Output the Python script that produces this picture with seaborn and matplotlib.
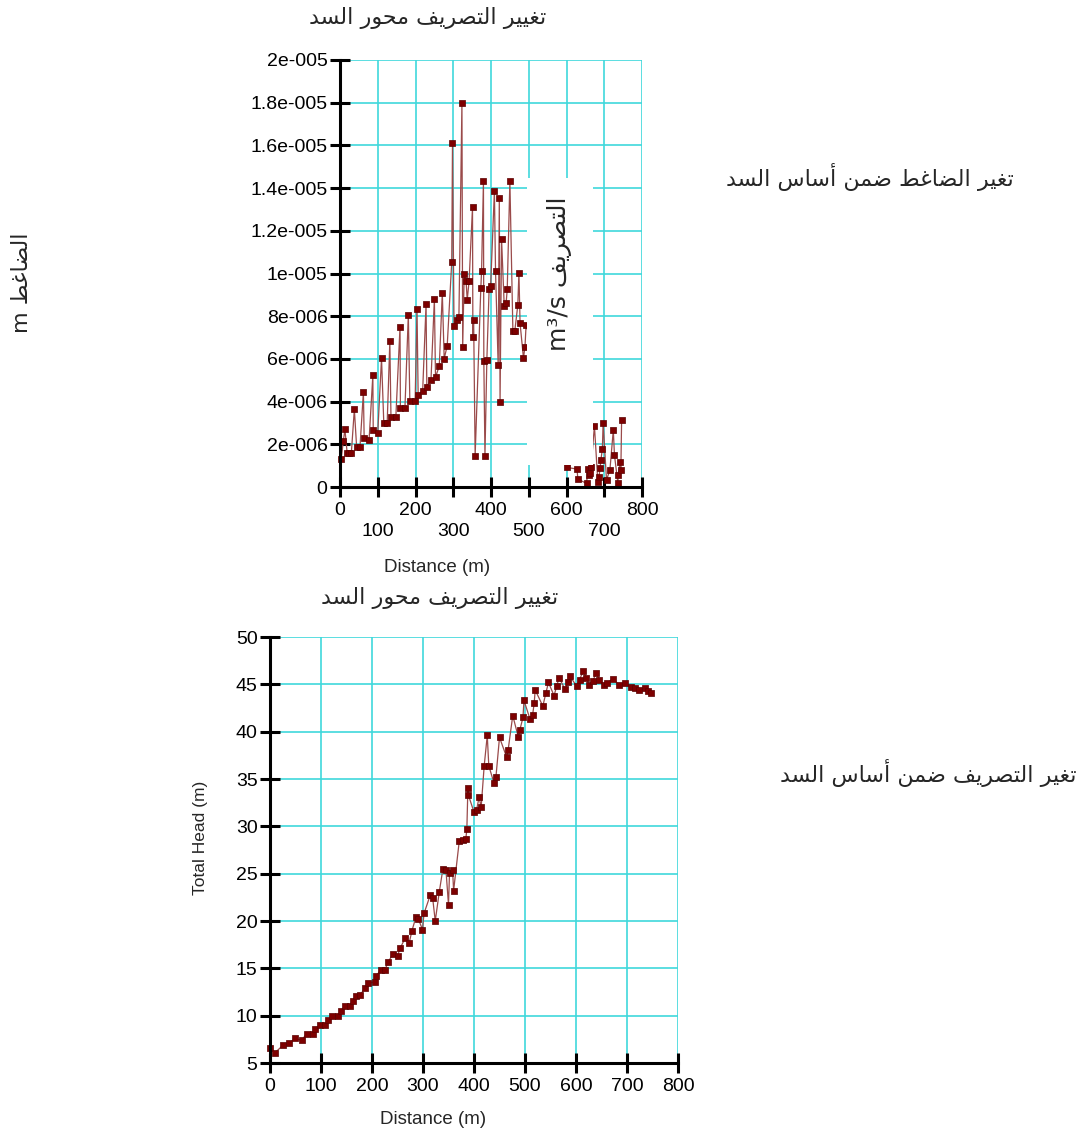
import matplotlib
matplotlib.use("Agg")
import matplotlib.pyplot as plt
from matplotlib.patches import Rectangle
import seaborn as sns
import pandas as pd

# ---------------- data ----------------
top_distance = [3, 9, 13, 19, 24, 30, 38, 44, 53, 62, 64, 77, 87, 88, 100, 110, 116, 125, 132, 135,
                148, 159, 160, 172, 181, 185, 199, 204, 207, 219, 228, 230, 241, 250, 253, 263, 271,
                276, 284, 296, 298, 302, 311, 315, 323, 325, 329, 334, 337, 342, 351, 352, 354, 358,
                373, 375, 380, 381, 384, 389, 395, 399, 409, 412, 419, 422, 424, 428, 435, 440, 443,
                450, 458, 463, 471, 474, 477, 486, 490, 493, 600, 628, 630, 653, 657, 660, 662, 665,
                674, 683, 686, 689, 691, 695, 697, 706, 715, 724, 727, 736, 737, 742, 744, 746]
top_flow_e6 = [1.30, 2.17, 2.70, 1.58, 1.58, 1.58, 3.64, 1.89, 1.89, 4.45, 2.28, 2.20, 5.23, 2.67,
               2.54, 6.03, 3.0, 3.0, 6.82, 3.3, 3.3, 7.51, 3.7, 3.7, 8.06, 4.04, 4.04, 8.35, 4.31,
               4.51, 8.57, 4.70, 5.01, 8.79, 5.14, 5.67, 9.10, 6.01, 6.62, 10.54, 16.13, 7.54, 7.80,
               7.96, 18.0, 6.54, 10.0, 9.65, 8.76, 9.65, 13.1, 7.04, 7.82, 1.47, 9.3, 10.1, 14.33,
               5.9, 1.47, 5.95, 9.27, 9.4, 13.86, 10.1, 5.71, 13.52, 4.0, 11.6, 8.5, 8.6, 9.26, 14.33,
               7.3, 7.3, 8.52, 10.04, 7.67, 6.03, 6.57, 7.6, 0.92, 0.84, 0.37, 0.17, 0.84, 0.56, 0.64,
               0.95, 2.86, 0.25, 0.48, 0.88, 1.26, 1.77, 3.01, 0.33, 0.8, 2.67, 1.5, 0.2, 0.56, 1.17,
               0.8, 3.14]

bottom_distance = [0, 10, 26, 38, 49, 62, 72, 85, 88, 98, 108, 114, 121, 134, 139, 147, 156, 162, 169,
                   177, 186, 193, 206, 208, 217, 225, 232, 241, 250, 255, 265, 273, 278, 286, 291, 299,
                   302, 314, 319, 324, 332, 339, 345, 350, 352, 358, 360, 371, 378, 384, 386, 388, 389,
                   400, 405, 410, 414, 420, 426, 429, 439, 443, 450, 464, 467, 476, 487, 490, 496, 498,
                   510, 515, 518, 520, 535, 541, 546, 557, 562, 567, 578, 585, 588, 601, 607, 614, 620,
                   626, 633, 639, 646, 654, 661, 672, 685, 696, 707, 716, 724, 735, 742, 748]
bottom_head = [6.56, 6.1, 6.9, 7.1, 7.6, 7.4, 8.1, 8.1, 8.6, 9.0, 9.0, 9.5, 10.0, 10.0, 10.5, 11.0, 11.0,
               11.6, 12.1, 12.2, 12.9, 13.4, 13.6, 14.2, 14.8, 14.8, 15.7, 16.5, 16.3, 17.1, 18.2, 17.7,
               18.9, 20.4, 20.2, 19.1, 20.8, 22.7, 22.4, 20.0, 23.1, 25.5, 25.4, 21.7, 25.1, 25.4, 23.2,
               28.4, 28.6, 28.7, 29.7, 34.0, 33.3, 31.5, 31.7, 33.1, 32.0, 36.4, 39.6, 36.4, 34.6, 35.2,
               39.4, 37.3, 38.1, 41.7, 39.4, 40.2, 41.5, 43.3, 41.3, 41.8, 43.0, 44.4, 42.7, 44.1, 45.2,
               43.8, 44.8, 45.7, 44.5, 45.2, 45.9, 44.8, 45.5, 46.4, 45.7, 44.9, 45.3, 46.2, 45.5, 44.9,
               45.1, 45.6, 44.9, 45.1, 44.7, 44.6, 44.4, 44.6, 44.3, 44.1]

top_yticks = [0, 2e-6, 4e-6, 6e-6, 8e-6, 1e-5, 1.2e-5, 1.4e-5, 1.6e-5, 1.8e-5, 2e-5]
top_ytick_labels = ["0", "2e-006", "4e-006", "6e-006", "8e-006", "1e-005", "1.2e-005",
                    "1.4e-005", "1.6e-005", "1.8e-005", "2e-005"]
x_ticks = [0, 100, 200, 300, 400, 500, 600, 700, 800]
bottom_yticks = [5, 10, 15, 20, 25, 30, 35, 40, 45, 50]

title_text = "تغيير التصريف محور السد"
right_top_text = "تغير الضاغط ضمن أساس السد"
right_bottom_text = "تغير التصريف ضمن أساس السد"
left_text_ar = "الضاغط"
box_text_ar = "التصريف"
xlabel = "Distance (m)"
bottom_ylabel = "Total Head (m)"

# ---------------- Arabic shaping (presentation forms, visual order) ----------------
FORMS = {
    '\u0627': ('\uFE8D', '\uFE8E', None, None),
    '\u0623': ('\uFE83', '\uFE84', None, None),
    '\u062A': ('\uFE95', '\uFE96', '\uFE97', '\uFE98'),
    '\u062D': ('\uFEA1', '\uFEA2', '\uFEA3', '\uFEA4'),
    '\u062F': ('\uFEA9', '\uFEAA', None, None),
    '\u0631': ('\uFEAD', '\uFEAE', None, None),
    '\u0633': ('\uFEB1', '\uFEB2', '\uFEB3', '\uFEB4'),
    '\u0635': ('\uFEB9', '\uFEBA', '\uFEBB', '\uFEBC'),
    '\u0636': ('\uFEBD', '\uFEBE', '\uFEBF', '\uFEC0'),
    '\u0637': ('\uFEC1', '\uFEC2', '\uFEC3', '\uFEC4'),
    '\u063A': ('\uFECD', '\uFECE', '\uFECF', '\uFED0'),
    '\u0641': ('\uFED1', '\uFED2', '\uFED3', '\uFED4'),
    '\u0644': ('\uFEDD', '\uFEDE', '\uFEDF', '\uFEE0'),
    '\u0645': ('\uFEE1', '\uFEE2', '\uFEE3', '\uFEE4'),
    '\u0646': ('\uFEE5', '\uFEE6', '\uFEE7', '\uFEE8'),
    '\u0648': ('\uFEED', '\uFEEE', None, None),
    '\u064A': ('\uFEF1', '\uFEF2', '\uFEF3', '\uFEF4'),
}


def shape(s):
    out = []
    for i, c in enumerate(s):
        if c not in FORMS:
            out.append(c)
            continue
        prev = s[i - 1] if i > 0 else ''
        nxt = s[i + 1] if i + 1 < len(s) else ''
        jp = prev in FORMS and FORMS[prev][2] is not None
        jn = nxt in FORMS and FORMS[c][2] is not None
        iso, fin, ini, med = FORMS[c]
        if jp and jn:
            out.append(med)
        elif jp:
            out.append(fin)
        elif jn:
            out.append(ini)
        else:
            out.append(iso)
    return ''.join(out)[::-1]


# ---------------- style ----------------
sns.set_theme(style="white")
plt.rcParams['font.family'] = ['Liberation Sans', 'DejaVu Sans']
W, H = 1092, 1136
fig = plt.figure(figsize=(W / 100, H / 100), dpi=100)
fig.patch.set_facecolor("white")

GRID = "#3fd8dc"
LINE = "#9a4a4a"
MARK = "#7d0000"
TFS = 14


def fx(px):
    return px / W


def fy(py):
    return 1 - py / H


def style_axes(ax, xt, yt):
    ax.set_facecolor("white")
    for s in ("top", "right"):
        ax.spines[s].set_visible(False)
    for s in ("left", "bottom"):
        ax.spines[s].set_color("black")
        ax.spines[s].set_linewidth(2.2)
        ax.spines[s].set_zorder(4)
    ax.set_xticks(xt)
    ax.set_yticks(yt)
    ax.grid(True, color=GRID, linewidth=1.2)
    ax.set_axisbelow(True)
    ax.tick_params(axis="both", direction="inout", length=14, width=2.2, color="black",
                   labelsize=TFS, labelcolor="black", left=True, bottom=True)
    ax.tick_params(axis="y", pad=2)


# ---------------- top chart ----------------
ax1 = fig.add_axes([fx(340), fy(487), fx(642 - 340), (487 - 60) / H])
df_top = pd.DataFrame({"Distance": top_distance,
                       "Flow": [v * 1e-6 for v in top_flow_e6]})
sns.lineplot(data=df_top, x="Distance", y="Flow", ax=ax1, color=LINE, linewidth=0.9,
             sort=False, zorder=2)
sns.scatterplot(data=df_top, x="Distance", y="Flow", ax=ax1, marker="s", s=14,
                color=MARK, edgecolor="#5a0000", linewidth=0.5, zorder=3, clip_on=False)
ax1.set_xlim(0, 800)
ax1.set_ylim(0, 2e-5)
style_axes(ax1, x_ticks, top_yticks)
ax1.set_yticklabels(top_ytick_labels)
ax1.set_xticklabels([str(t) if i % 2 == 0 else "\n" + str(t) for i, t in enumerate(x_ticks)],
                    linespacing=1.35)
ax1.set_xlabel(xlabel, fontsize=13.5)
ax1.xaxis.set_label_coords((437 - 340) / 302, (487 - 567) / 427)
ax1.xaxis.label.set_va("center")
ax1.set_ylabel("")

# ---------------- bottom chart ----------------
ax2 = fig.add_axes([fx(270), fy(1063), fx(678 - 270), (1063 - 637) / H])
df_bot = pd.DataFrame({"Distance": bottom_distance, "Head": bottom_head})
sns.lineplot(data=df_bot, x="Distance", y="Head", ax=ax2, color=LINE, linewidth=0.9,
             sort=False, zorder=2)
sns.scatterplot(data=df_bot, x="Distance", y="Head", ax=ax2, marker="s", s=18,
                color=MARK, edgecolor="#5a0000", linewidth=0.5, zorder=3, clip_on=False)
ax2.set_xlim(0, 800)
ax2.set_ylim(5, 50)
style_axes(ax2, x_ticks, bottom_yticks)
ax2.set_xticklabels([str(t) for t in x_ticks])
ax2.set_xlabel(xlabel, fontsize=13.5)
ax2.xaxis.set_label_coords((433 - 270) / 408, (1063 - 1120) / 426)
ax2.xaxis.label.set_va("center")
ax2.set_ylabel(bottom_ylabel, fontsize=12.5)
ax2.yaxis.set_label_coords((200 - 270) / 408, (1063 - 838) / 426)
ax2.yaxis.label.set_va("center")

# ---------------- texts ----------------
AR = ['DejaVu Sans']
fig.text(fx(428), fy(18), shape(title_text), ha="center", va="center", fontsize=16, family=AR)
fig.text(fx(440), fy(598), shape(title_text), ha="center", va="center", fontsize=16, family=AR)
fig.text(fx(870), fy(177), shape(right_top_text), ha="center", va="center", fontsize=16, family=AR)
fig.text(fx(928), fy(773), shape(right_bottom_text), ha="center", va="center", fontsize=16,
         family=AR)
fig.text(fx(22), fy(283), "m " + shape(left_text_ar), ha="center", va="center", fontsize=16,
         rotation=90, family=AR)

# white box with flow unit label over the top chart
box = Rectangle((fx(527), fy(465)), fx(593 - 527), (465 - 178) / H, transform=fig.transFigure,
                facecolor="white", edgecolor="none", zorder=10)
fig.add_artist(box)
fig.text(fx(560), fy(274), "m³/s " + shape(box_text_ar), ha="center", va="center", fontsize=18,
         rotation=90, family=AR, zorder=11)

fig.savefig("out.png", dpi=100, facecolor="white")
